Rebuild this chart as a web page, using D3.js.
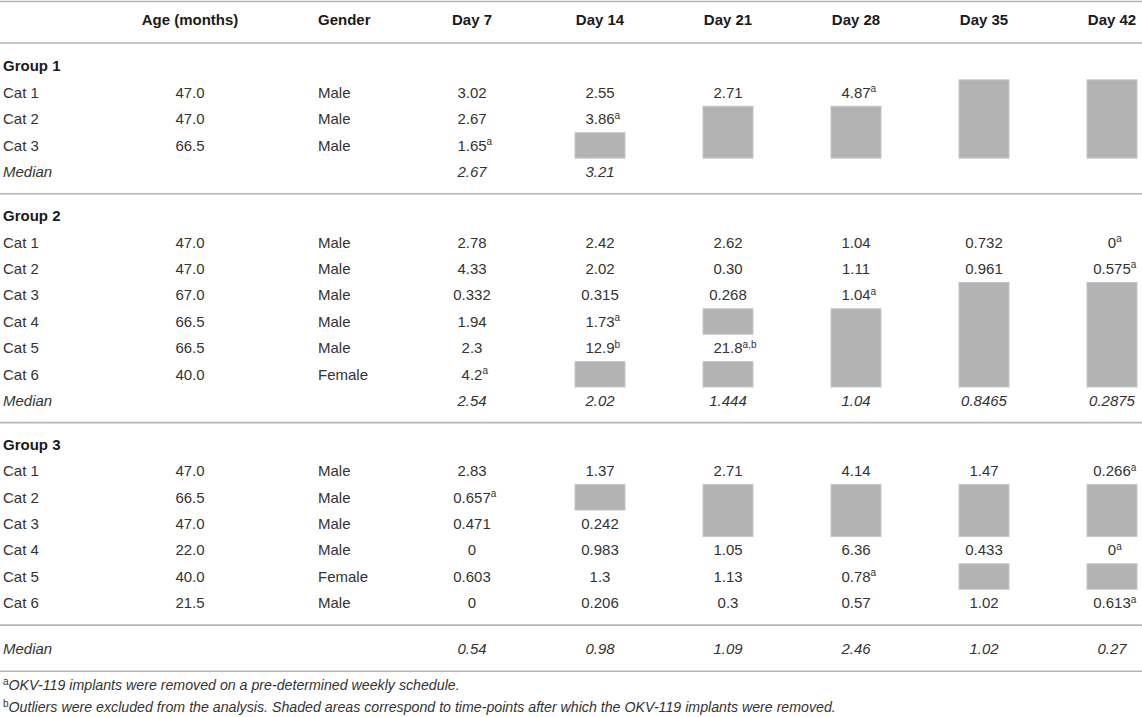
<!DOCTYPE html>
<html>
<head>
<meta charset="utf-8">
<script src="https://cdn.jsdelivr.net/npm/d3@7"></script>
<style>
  html, body { margin: 0; padding: 0; background: #fff; }
  svg { display: block; }
  text { font-family: "Liberation Sans", Arial, Helvetica, sans-serif; }
</style>
</head>
<body>
<svg id="chart" width="1142" height="717"></svg>
<script>
// ---------- data ----------
const headers = ["Age (months)", "Gender", "Day 7", "Day 14", "Day 21", "Day 28", "Day 35", "Day 42"];
const groups = ["Group 1", "Group 2", "Group 3"];

// "value|sup" ; null = shaded (implant removed)
const group1Cats = ["Cat 1", "Cat 2", "Cat 3"];
const group1Age = ["47.0", "47.0", "66.5"];
const group1Gender = ["Male", "Male", "Male"];
const group1Values = [
  ["3.02", "2.55", "2.71", "4.87|a", null, null],
  ["2.67", "3.86|a", null, null, null, null],
  ["1.65|a", null, null, null, null, null]
];
const group1Median = ["2.67", "3.21", "", "", "", ""];

const group2Cats = ["Cat 1", "Cat 2", "Cat 3", "Cat 4", "Cat 5", "Cat 6"];
const group2Age = ["47.0", "47.0", "67.0", "66.5", "66.5", "40.0"];
const group2Gender = ["Male", "Male", "Male", "Male", "Male", "Female"];
const group2Values = [
  ["2.78", "2.42", "2.62", "1.04", "0.732", "0|a"],
  ["4.33", "2.02", "0.30", "1.11", "0.961", "0.575|a"],
  ["0.332", "0.315", "0.268", "1.04|a", null, null],
  ["1.94", "1.73|a", null, null, null, null],
  ["2.3", "12.9|b", "21.8|a,b", null, null, null],
  ["4.2|a", null, null, null, null, null]
];
const group2Median = ["2.54", "2.02", "1.444", "1.04", "0.8465", "0.2875"];

const group3Cats = ["Cat 1", "Cat 2", "Cat 3", "Cat 4", "Cat 5", "Cat 6"];
const group3Age = ["47.0", "66.5", "47.0", "22.0", "40.0", "21.5"];
const group3Gender = ["Male", "Male", "Male", "Male", "Female", "Male"];
const group3Values = [
  ["2.83", "1.37", "2.71", "4.14", "1.47", "0.266|a"],
  ["0.657|a", null, null, null, null, null],
  ["0.471", "0.242", null, null, null, null],
  ["0", "0.983", "1.05", "6.36", "0.433", "0|a"],
  ["0.603", "1.3", "1.13", "0.78|a", null, null],
  ["0", "0.206", "0.3", "0.57", "1.02", "0.613|a"]
];
const group3Median = ["0.54", "0.98", "1.09", "2.46", "1.02", "0.27"];

const footnotes = [
  ["a", "OKV-119 implants were removed on a pre-determined weekly schedule."],
  ["b", "Outliers were excluded from the analysis. Shaded areas correspond to time-points after which the OKV-119 implants were removed."]
];

// ---------- layout ----------
const svg = d3.select("#chart");
const W = 1142;
const rowH = 26.4;
const y = d3.scaleLinear().domain([0, 1]).range([20, 20 + rowH]);
const dayX = d3.scaleLinear().domain([0, 1]).range([472, 600]);
const ageX = 190, genderX = 318, labelX = 3;
const FS = 15;
const txtColor = "#333";
const boldColor = "#1a1a1a";
const lineColor = "#b5b5b5";

function hline(slot) {
  svg.append("line").attr("x1", 0).attr("x2", W)
    .attr("y1", y(slot)).attr("y2", y(slot))
    .attr("stroke", lineColor).attr("stroke-width", 1.6);
}

function valueText(x, slot, str, italic) {
  const parts = str.split("|");
  const t = svg.append("text")
    .attr("x", x).attr("y", y(slot)).attr("dy", "0.35em")
    .attr("text-anchor", "middle")
    .attr("font-size", FS).attr("fill", txtColor)
    .attr("font-style", italic ? "italic" : null);
  t.append("tspan").text(parts[0]);
  if (parts[1]) {
    t.append("tspan").attr("font-size", 10).attr("dy", "-0.55em").text(parts[1]);
    const base = t.node().firstChild.getComputedTextLength();
    t.attr("text-anchor", "start").attr("x", x - base / 2);
  }
}

// top + header
hline(-0.7);
headers.forEach((h, i) => {
  let x, anchor = "middle";
  if (i === 0) x = ageX;
  else if (i === 1) { x = genderX; anchor = "start"; }
  else x = dayX(i - 2);
  svg.append("text").attr("x", x).attr("y", y(0)).attr("dy", "0.35em")
    .attr("text-anchor", anchor).attr("font-size", FS).attr("font-weight", "bold")
    .attr("fill", boldColor).text(h);
});
hline(0.87);

const groupData = [
  { name: groups[0], cats: group1Cats, age: group1Age, gender: group1Gender, vals: group1Values, med: group1Median },
  { name: groups[1], cats: group2Cats, age: group2Age, gender: group2Gender, vals: group2Values, med: group2Median },
  { name: groups[2], cats: group3Cats, age: group3Age, gender: group3Gender, vals: group3Values, med: group3Median }
];
const groupStart = [1.75, 7.42, 16.08];

groupData.forEach((g, gi) => {
  const s0 = groupStart[gi];
  svg.append("text").attr("x", labelX).attr("y", y(s0)).attr("dy", "0.35em")
    .attr("font-size", FS).attr("font-weight", "bold").attr("fill", boldColor).text(g.name);
  g.cats.forEach((c, ci) => {
    const s = s0 + 1 + ci;
    svg.append("text").attr("x", labelX).attr("y", y(s)).attr("dy", "0.35em")
      .attr("font-size", FS).attr("fill", txtColor).text(c);
    svg.append("text").attr("x", ageX).attr("y", y(s)).attr("dy", "0.35em")
      .attr("text-anchor", "middle").attr("font-size", FS).attr("fill", txtColor).text(g.age[ci]);
    svg.append("text").attr("x", genderX).attr("y", y(s)).attr("dy", "0.35em")
      .attr("font-size", FS).attr("fill", txtColor).text(g.gender[ci]);
    g.vals[ci].forEach((v, di) => {
      if (v !== null) valueText(dayX(di), s, v, false);
    });
  });
  for (let di = 0; di < 6; di++) {
    let ci = 0;
    while (ci < g.cats.length) {
      if (g.vals[ci][di] === null) {
        let cj = ci;
        while (cj + 1 < g.cats.length && g.vals[cj + 1][di] === null) cj++;
        const top = y(s0 + 1 + ci - 0.5);
        const bot = y(s0 + 1 + cj + 0.5);
        svg.append("rect")
          .attr("x", dayX(di) - 25).attr("width", 50)
          .attr("y", top + 0.5).attr("height", bot - top - 1)
          .attr("fill", "#b3b3b3").attr("stroke", "#c4c4c4").attr("stroke-width", 1);
        ci = cj + 1;
      } else ci++;
    }
  }
  const ms = gi === 2 ? 23.83 : s0 + 1 + g.cats.length;
  svg.append("text").attr("x", labelX).attr("y", y(ms)).attr("dy", "0.35em")
    .attr("font-size", FS).attr("font-style", "italic").attr("fill", txtColor).text("Median");
  g.med.forEach((m, di) => { if (m) valueText(dayX(di), ms, m, true); });
});

hline(6.58);
hline(15.25);
hline(22.92);
hline(24.67);

footnotes.forEach((f, i) => {
  const t = svg.append("text").attr("x", labelX).attr("y", y(25.33 + i * 0.83)).attr("dy", "0.35em")
    .attr("font-size", 14.2).attr("font-style", "italic").attr("fill", txtColor);
  t.append("tspan").attr("font-size", 10).attr("dy", "-0.4em").attr("font-style", "normal").text(f[0]);
  t.append("tspan").attr("dy", "0.4em").text(f[1]);
});
</script>
</body>
</html>
